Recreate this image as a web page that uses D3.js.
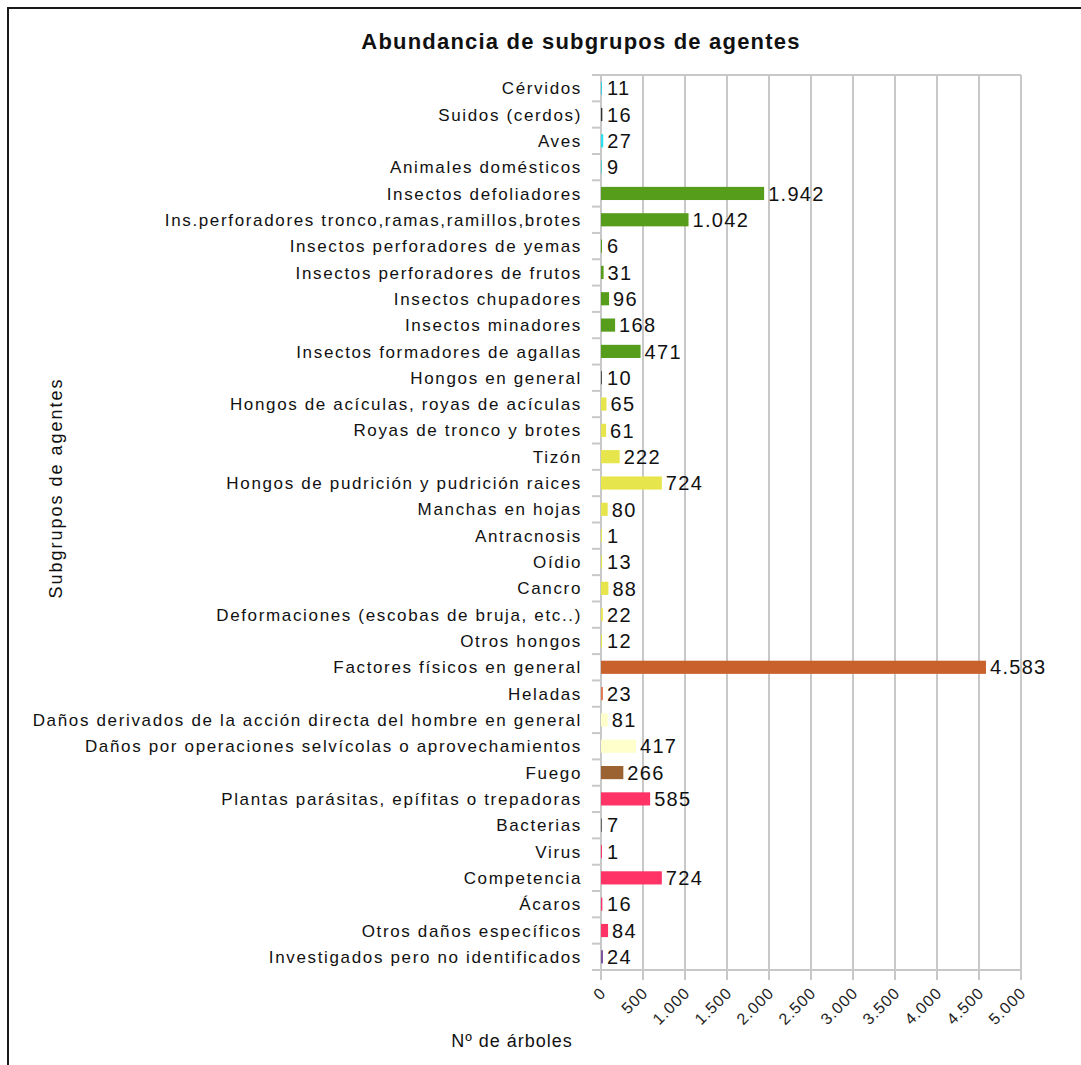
<!DOCTYPE html>
<html><head><meta charset="utf-8">
<script src="https://cdn.jsdelivr.net/npm/d3@7"></script>
<style>
html,body{margin:0;padding:0;background:#fff;}
svg{display:block;font-family:"Liberation Sans",Arial,sans-serif;}
</style></head><body>
<svg id="c" width="1081" height="1065"></svg>
<script>
const categories = [
 "Cérvidos","Suidos (cerdos)","Aves","Animales domésticos","Insectos defoliadores",
 "Ins.perforadores tronco,ramas,ramillos,brotes","Insectos perforadores de yemas",
 "Insectos perforadores de frutos","Insectos chupadores","Insectos minadores",
 "Insectos formadores de agallas","Hongos en general","Hongos de acículas, royas de acículas",
 "Royas de tronco y brotes","Tizón","Hongos de pudrición y pudrición raices","Manchas en hojas",
 "Antracnosis","Oídio","Cancro","Deformaciones (escobas de bruja, etc..)","Otros hongos",
 "Factores físicos en general","Heladas","Daños derivados de la acción directa del hombre en general",
 "Daños por operaciones selvícolas o aprovechamientos","Fuego","Plantas parásitas, epífitas o trepadoras",
 "Bacterias","Virus","Competencia","Ácaros","Otros daños específicos","Investigados pero no identificados"
];
const values = [11,16,27,9,1942,1042,6,31,96,168,471,10,65,61,222,724,80,1,13,88,22,12,4583,23,81,417,266,585,7,1,724,16,84,24];
const valueLabels = ["11","16","27","9","1.942","1.042","6","31","96","168","471","10","65","61","222","724","80","1","13","88","22","12","4.583","23","81","417","266","585","7","1","724","16","84","24"];
const colors = ["#35d0dc","#333333","#2ee0ec","#5ccccc","#579d1c","#579d1c","#579d1c","#579d1c","#579d1c","#579d1c","#579d1c",
 "#555555","#e6e64c","#e6e64c","#e6e64c","#e6e64c","#e6e64c","#e6e64c","#e6e64c","#e6e64c","#e6e64c","#e6e64c",
 "#c9612c","#e07a55","#ffffcc","#ffffcc","#9a6331","#ff3366","#666666","#ff3366","#ff3366","#ff3366","#ff3366","#7e57a0"];
const xTicks = [0,500,1000,1500,2000,2500,3000,3500,4000,4500,5000];
const xTickLabels = ["0","500","1.000","1.500","2.000","2.500","3.000","3.500","4.000","4.500","5.000"];
const title = "Abundancia de subgrupos de agentes";
const xTitle = "Nº de árboles";
const yTitle = "Subgrupos de agentes";

const svg = d3.select("#c");
// outer frame
svg.append("rect").attr("x",8).attr("y",8).attr("width",1090).attr("height",1080)
  .attr("fill","none").attr("stroke","#1a1a1a").attr("stroke-width",2);

const L=601, R=1021, T=75, B=970;
const x = d3.scaleLinear().domain([0,5000]).range([L,R]);
const y = d3.scaleBand().domain(categories).range([T,B]).paddingInner(0.5).paddingOuter(0.25);
const yb = d3.scaleBand().domain(categories).range([T,B]);

const grid="#c8c8c8";
svg.append("g").selectAll("line").data(xTicks.slice(1)).join("line")
  .attr("x1",d=>x(d)).attr("x2",d=>x(d)).attr("y1",T).attr("y2",B)
  .attr("stroke",grid).attr("stroke-width",2);
svg.append("line").attr("x1",L).attr("x2",R).attr("y1",T).attr("y2",T).attr("stroke",grid).attr("stroke-width",2);

const bounds = categories.map(c=>yb(c)).concat([B]);
svg.append("g").selectAll("line").data(bounds).join("line")
  .attr("x1",592).attr("x2",L).attr("y1",d=>d).attr("y2",d=>d)
  .attr("stroke",grid).attr("stroke-width",2);
svg.append("line").attr("x1",L).attr("x2",L).attr("y1",T).attr("y2",B).attr("stroke",grid).attr("stroke-width",2);
svg.append("line").attr("x1",592).attr("x2",R).attr("y1",B).attr("y2",B).attr("stroke",grid).attr("stroke-width",2);
svg.append("g").selectAll("line").data(xTicks).join("line")
  .attr("x1",d=>x(d)).attr("x2",d=>x(d)).attr("y1",B).attr("y2",B+10)
  .attr("stroke",grid).attr("stroke-width",2);

// bars
svg.append("g").selectAll("rect").data(values).join("rect")
  .attr("x",L).attr("y",(d,i)=>y(categories[i]))
  .attr("width",d=>Math.max(1,x(d)-L)).attr("height",y.bandwidth())
  .attr("fill",(d,i)=>colors[i]);

// value labels
svg.append("g").selectAll("text").data(values).join("text")
  .attr("x",d=>Math.max(x(d),L+2)+4).attr("y",(d,i)=>yb(categories[i])+yb.bandwidth()/2)
  .attr("dy","0.36em").attr("font-size",20).attr("letter-spacing","1.3px").attr("fill","#111")
  .text((d,i)=>valueLabels[i]);

// category labels
svg.append("g").selectAll("text").data(categories).join("text")
  .attr("x",582).attr("y",d=>yb(d)+yb.bandwidth()/2).attr("dy","0.36em")
  .attr("text-anchor","end").attr("font-size",17).attr("letter-spacing","1.65px").attr("fill","#111")
  .text(d=>d);

// x tick labels rotated
svg.append("g").selectAll("text").data(xTicks).join("text")
  .attr("transform",d=>`translate(${x(d)+6},${B+24}) rotate(-45)`)
  .attr("text-anchor","end").attr("font-size",16).attr("letter-spacing","1px").attr("fill","#222")
  .text((d,i)=>xTickLabels[i]);

// titles
svg.append("text").attr("x",581).attr("y",49).attr("text-anchor","middle")
  .attr("font-size",22).attr("letter-spacing","1.2px").attr("font-weight","bold").attr("fill","#111").text(title);
svg.append("text").attr("x",512).attr("y",1047).attr("text-anchor","middle")
  .attr("font-size",18).attr("letter-spacing","1px").attr("fill","#111").text(xTitle);
svg.append("text").attr("transform","translate(62,488) rotate(-90)").attr("text-anchor","middle")
  .attr("font-size",18).attr("letter-spacing","2px").attr("fill","#111").text(yTitle);
</script>
</body></html>
